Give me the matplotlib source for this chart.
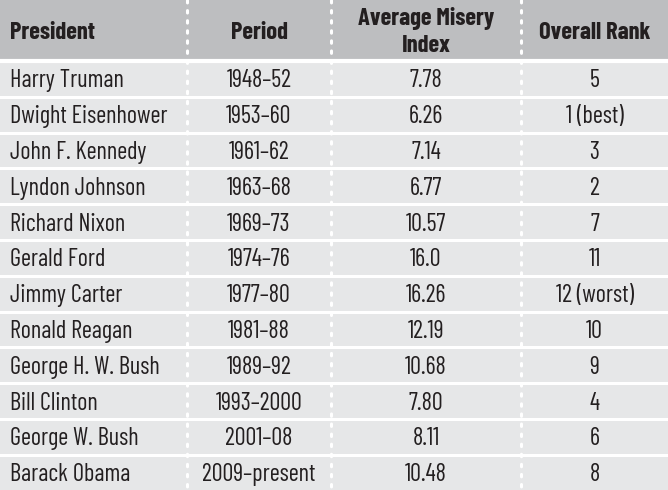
import matplotlib.pyplot as plt
from matplotlib import font_manager
from matplotlib.patches import Rectangle

presidents = ["Harry Truman", "Dwight Eisenhower", "John F. Kennedy", "Lyndon Johnson",
              "Richard Nixon", "Gerald Ford", "Jimmy Carter", "Ronald Reagan",
              "George H. W. Bush", "Bill Clinton", "George W. Bush", "Barack Obama"]
periods = ["1948\u201352", "1953\u201360", "1961\u201362", "1963\u201368", "1969\u201373",
           "1974\u201376", "1977\u201380", "1981\u201388", "1989\u201392", "1993\u20132000",
           "2001\u201308", "2009\u2013present"]
misery = ["7.78", "6.26", "7.14", "6.77", "10.57", "16.0", "16.26", "12.19",
          "10.68", "7.80", "8.11", "10.48"]
ranks = ["5", "1 (best)", "3", "2", "7", "11", "12 (worst)", "10", "9", "4", "6", "8"]
headers = ["President", "Period", "Average Misery\nIndex", "Overall Rank"]

names = {f.name for f in font_manager.fontManager.ttflist}
fam = "DejaVu Sans"
for cand in ["Barlow Condensed", "Asap Condensed", "Archivo Narrow"]:
    if cand in names:
        fam = cand
        break

W, H = 668, 490
fig = plt.figure(figsize=(W / 100, H / 100), dpi=100)
ax = fig.add_axes([0, 0, 1, 1])
ax.set_xlim(0, W)
ax.set_ylim(H, 0)
ax.axis("off")

header_h = 61
row_h = 35.8
col_edges = [0, 187, 331, 521, W]
text_col = "#231f20"

# backgrounds
ax.add_patch(Rectangle((0, 0), W, header_h, color="#bdbec0", lw=0))
ax.add_patch(Rectangle((0, header_h), W, H - header_h, color="#e6e7e8", lw=0))

# horizontal white separators
ax.axhline(header_h, color="white", lw=3)
for i in range(1, len(presidents)):
    ax.axhline(header_h + i * row_h, color="white", lw=2.2)

# vertical dotted lines
for x in col_edges[1:-1]:
    ax.plot([x, x], [0, H], color="white", lw=2.2, ls=(0, (0.8, 2.5)),
            dash_capstyle="round")

hx = [10, (187 + 331) / 2, (331 + 521) / 2, (521 + W) / 2]

# header text (baseline placed)
for j, h in enumerate(headers):
    lines = h.split("\n")
    if len(lines) == 1:
        ys = [39]
    else:
        ys = [25, 52]
    for ln, yb in zip(lines, ys):
        ax.text(hx[j], yb, ln, ha="left" if j == 0 else "center",
                va="baseline", fontsize=17.7, fontweight="bold", family=fam,
                color=text_col)

# body
for i in range(len(presidents)):
    yb = header_h + (i + 0.5) * row_h + 8.5
    row = [presidents[i], periods[i], misery[i], ranks[i]]
    for j, v in enumerate(row):
        ax.text(hx[j], yb, v, ha="left" if j == 0 else "center", va="baseline",
                fontsize=17.5, family=fam, color=text_col)

fig.savefig("out.png", dpi=100)
